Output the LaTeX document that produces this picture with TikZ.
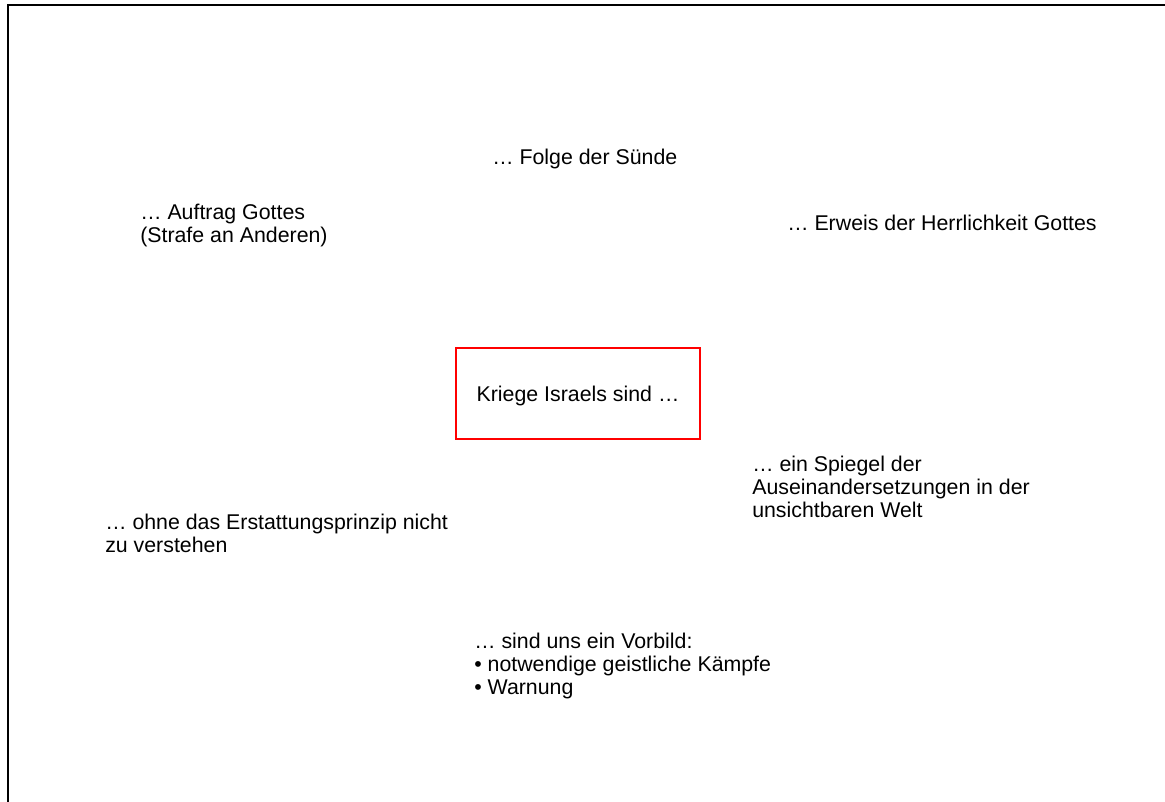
\documentclass[tikz,border=0pt]{standalone}
\usepackage{fontspec}
\setmainfont{Liberation Sans}
\begin{document}
\begin{tikzpicture}[x=0.75pt,y=-0.75pt,
  lbl/.style={anchor=west,align=left,inner sep=0pt,font=\fontsize{16}{17.25}\selectfont},
  centerbox/.style={draw=red,line width=1.5pt,minimum width=183pt,minimum height=68pt,inner sep=0pt,text height=16pt,text depth=3.5pt,font=\fontsize{16}{17.25}\selectfont},
  frame/.style={line width=1.5pt,black}]
\useasboundingbox (0,0) rectangle (1165,802);
\coordinate (fb) at (7.5,802);
\coordinate (fc) at (7.5,5.5);
\coordinate (fr) at (1165,5.5);
\draw[frame] (fb) -- (fc) -- (fr);
\node[centerbox] (c) at (578,393.5) {Kriege Israels sind …};
\node[lbl] (folge) at (492,159) {… Folge der Sünde};
\node[lbl] (auftrag) at (140,225.5) {… Auftrag Gottes\\(Strafe an Anderen)};
\node[lbl] (erweis) at (787,223) {… Erweis der Herrlichkeit Gottes};
\node[lbl] (spiegel) at (752,487) {… ein Spiegel der\\Auseinandersetzungen in der\\unsichtbaren Welt};
\node[lbl] (ohne) at (105,533.5) {… ohne das Erstattungsprinzip nicht\\zu verstehen};
\node[lbl] (vorbild) at (474,666) {… sind uns ein Vorbild:\\• notwendige geistliche Kämpfe\\• Warnung};
\end{tikzpicture}
\end{document}
